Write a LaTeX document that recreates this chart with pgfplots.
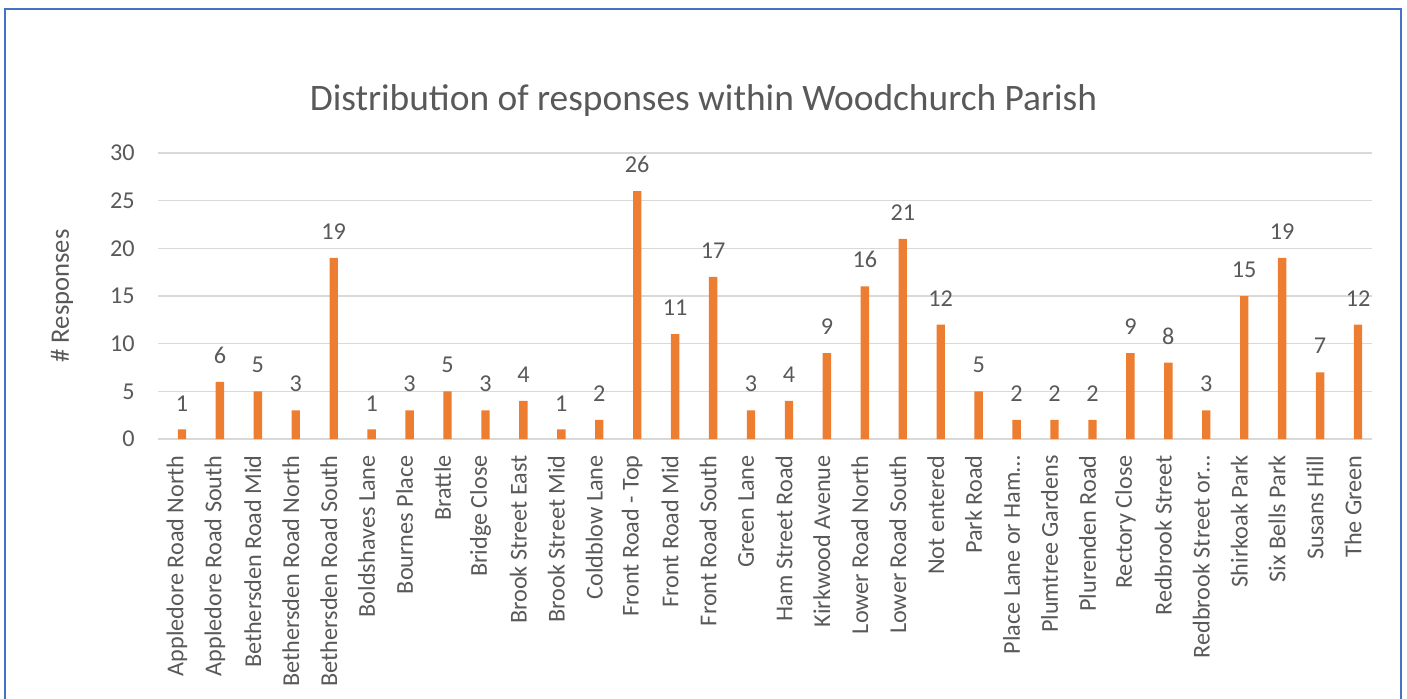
\documentclass[border=0pt]{standalone}
\usepackage{fontspec}
\setmainfont{Carlito}
\usepackage{pgfplots}
\pgfplotsset{compat=1.18}
\definecolor{txt}{HTML}{595959}
\definecolor{barc}{HTML}{ED7D31}
\definecolor{gridc}{HTML}{D9D9D9}
\definecolor{framec}{HTML}{4472C4}
\begin{document}
\begin{tikzpicture}
\useasboundingbox (0,0) rectangle (703.5pt,349pt);
\draw[framec, line width=1pt] (2.6pt,-5pt) -- (2.6pt,344.4pt) -- (700.4pt,344.4pt) -- (700.4pt,-5pt);
\node[anchor=base, font=\fontsize{18.7}{22}\selectfont, text=txt, inner sep=0pt] at (351.75pt,294pt) {Distribution of responses within Woodchurch Parish};
\begin{axis}[
  at={(79pt,129.5pt)}, anchor=south west,
  scale only axis, width=607pt, height=143pt,
  ybar,
  xmin=-0.5, xmax=31.5, ymin=0, ymax=30,
  ytick={0,5,...,30},
  xtick={0,...,31},
  xticklabels={Appledore Road North, Appledore Road South, Bethersden Road Mid, Bethersden Road North, Bethersden Road South, Boldshaves Lane, Bournes Place, Brattle, Bridge Close, Brook Street East, Brook Street Mid, Coldblow Lane, Front Road - Top, Front Road Mid, Front Road South, Green Lane, Ham Street Road, Kirkwood Avenue, Lower Road North, Lower Road South, Not entered, Park Road, Place Lane or Ham…, Plumtree Gardens, Plurenden Road, Rectory Close, Redbrook Street, Redbrook Street or…, Shirkoak Park, Six Bells Park, Susans Hill, The Green},
  major tick length=0pt,
  axis line style={draw=none},
  ymajorgrids, major grid style={gridc, line width=0.75pt},
  /pgf/number format/assume math mode=true,
  ticklabel style={font=\fontsize{12.1}{14}\selectfont, text=txt},
  yticklabel style={inner sep=0pt, xshift=-11.5pt, anchor=east},
  xticklabel style={inner sep=0pt, rotate=90, anchor=east, xshift=-8pt},
  ylabel={\# Responses},
  every axis y label/.style={at={(axis description cs:-0.0791,0.5)}, rotate=90, anchor=center, font=\fontsize{13.3}{16}\selectfont, text=txt},
  nodes near coords,
  every node near coord/.append style={font=\fontsize{12.1}{14}\selectfont, text=txt, anchor=south, inner sep=0pt, yshift=9pt},
  clip=false,
]
\addplot[fill=barc, draw=none, bar width=4.2pt, bar shift=2.5pt] coordinates {
(0,1) (1,6) (2,5) (3,3) (4,19) (5,1) (6,3) (7,5) (8,3) (9,4) (10,1) (11,2) (12,26) (13,11) (14,17) (15,3) (16,4) (17,9) (18,16) (19,21) (20,12) (21,5) (22,2) (23,2) (24,2) (25,9) (26,8) (27,3) (28,15) (29,19) (30,7) (31,12)
};
\end{axis}
\end{tikzpicture}
\end{document}
